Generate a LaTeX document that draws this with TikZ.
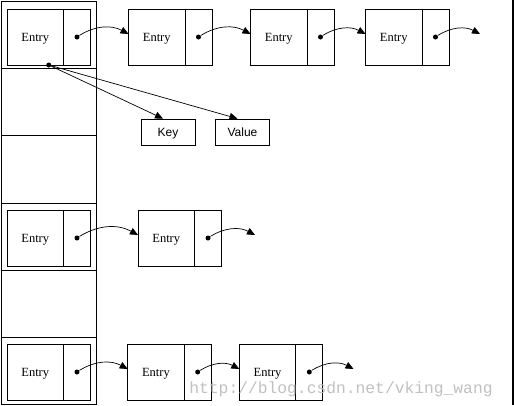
\documentclass[tikz,border=0pt]{standalone}
\usepackage{fontspec}
\setmainfont{Liberation Serif}
\setmonofont{Liberation Mono}
\newfontfamily\keyfont{Liberation Sans}
\usetikzlibrary{arrows.meta, positioning}
\definecolor{markink}{RGB}{192, 192, 192}

\begin{document}
\begin{tikzpicture}[x=1pt, y=-1pt, line width=0.8pt,
  bucket/.style={draw, minimum width=95pt, minimum height=67.2pt, inner sep=0pt, outer sep=0pt},
  slot/.style={draw, anchor=west, minimum width=56.5pt, minimum height=56pt, inner sep=0pt, outer sep=0pt, text depth=0pt, font=\fontsize{12.5}{14}\selectfont},
  link/.style={draw, minimum width=27pt, minimum height=56pt, inner sep=0pt, outer sep=0pt},
  field/.style={draw, minimum width=54pt, minimum height=26pt, inner sep=0pt, text depth=0pt, font=\keyfont\fontsize{12}{14}\selectfont},
  ptr/.style={circle, fill, inner sep=0pt, minimum size=5pt},
  tip/.style={-{Triangle[length=8pt, width=7pt]}, line width=0.7pt},
  next/.style={tip, bend left=30}]
  \useasboundingbox (0,0) rectangle (514,405);
  % table of buckets
  \foreach \i in {0,...,5}
    \node[bucket] (b\i) at (48.5, 35+67.2*\i) {};
  % bucket 0
  \node[slot] (s00) at (7,37) {Entry};
  \node[link, right=0pt of s00] (l00) {};
  \node[slot] (s01) at (128.5,37) {Entry};
  \node[link, right=0pt of s01] (l01) {};
  \node[slot] (s02) at (250.5,37) {Entry};
  \node[link, right=0pt of s02] (l02) {};
  \node[slot] (s03) at (365.5,37) {Entry};
  \node[link, right=0pt of s03] (l03) {};
  \foreach \j in {00,01,02,03}
    \node[ptr] (p\j) at (l\j) {};
  \coordinate (t0) at (480,34);
  \draw[next] (p00) to ([yshift=3pt]s01.west);
  \draw[next] (p01) to ([yshift=3pt]s02.west);
  \draw[next] (p02) to ([yshift=3pt]s03.west);
  \draw[next] (p03) to (t0);
  % key and value of the first entry
  \node[ptr] (kv) at ([xshift=13.5pt]s00.south) {};
  \node[field] (key) at (168,132) {Key};
  \node[field] (val) at (242.5,132) {Value};
  \draw[tip] (kv) -- ([xshift=-5pt]key.north);
  \draw[tip] (kv) -- ([xshift=-5pt]val.north);
  % bucket 3
  \node[slot] (s30) at (7,238) {Entry};
  \node[link, right=0pt of s30] (l30) {};
  \node[slot] (s31) at (138,238) {Entry};
  \node[link, right=0pt of s31] (l31) {};
  \foreach \j in {30,31}
    \node[ptr] (p\j) at (l\j) {};
  \coordinate (t3) at (255,235);
  \draw[next] (p30) to ([yshift=3pt]s31.west);
  \draw[next] (p31) to (t3);
  % bucket 5
  \node[slot] (s50) at (7,372) {Entry};
  \node[link, right=0pt of s50] (l50) {};
  \node[slot] (s51) at (127.7,372) {Entry};
  \node[link, right=0pt of s51] (l51) {};
  \node[slot] (s52) at (239.3,372) {Entry};
  \node[link, right=0pt of s52] (l52) {};
  \foreach \j in {50,51,52}
    \node[ptr] (p\j) at (l\j) {};
  \coordinate (t5) at (353.5,369);
  \draw[next] (p50) to ([yshift=3pt]s51.west);
  \draw[next] (p51) to ([yshift=3pt]s52.west);
  \draw[next] (p52) to (t5);
  % watermark and right edge
  \node[anchor=base west, inner sep=0pt, text=markink, font=\ttfamily\fontsize{16.3}{18}\selectfont] (mark) at (189,393) {http://blog.csdn.net/vking\_wang};
  \fill (511.7,0) rectangle (514,405);
\end{tikzpicture}
\end{document}
